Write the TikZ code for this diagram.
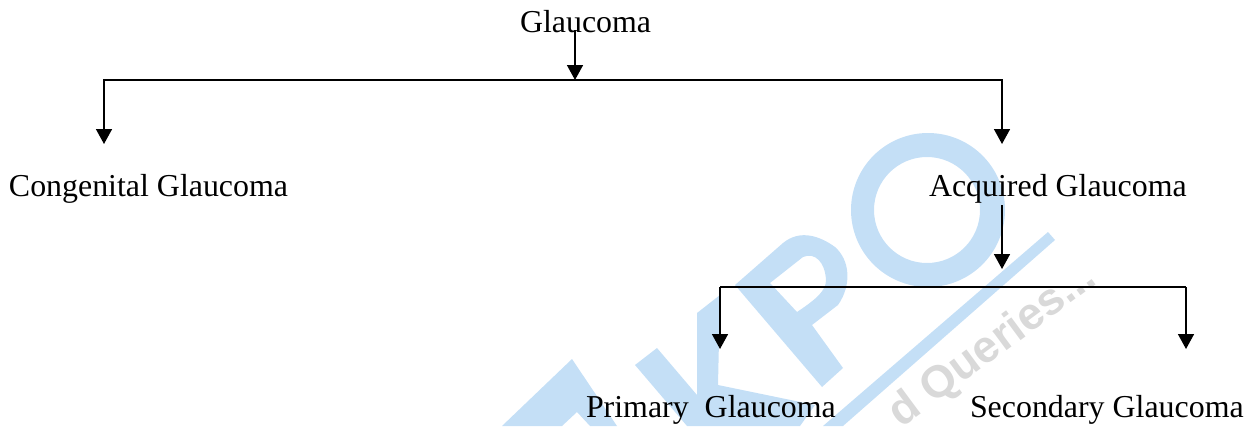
\documentclass[tikz,border=0pt]{standalone}
\usepackage{fontspec}
\setmainfont{Liberation Serif}
\newfontfamily\wmfont{Liberation Sans}
\usetikzlibrary{arrows.meta}
\definecolor{wmblue}{HTML}{C4DFF6}
\definecolor{wmgray}{HTML}{D9D9D9}
\tikzset{
  label text/.style={anchor=base west,inner sep=0pt,outer sep=0pt,font=\fontsize{31.9}{36}\selectfont,text=black},
  bus/.style={line width=2pt,draw=black},
  feed/.style={line width=1.6pt,draw=black,-{Triangle[width=16pt,length=15pt]}},
  wm/.style={fill=wmblue,draw=none}
}
\begin{document}
\begin{tikzpicture}[x=1pt,y=-1pt]
\useasboundingbox (0,0) rectangle (1256,426);
\clip (0,0) rectangle (1256,426);
% watermark
\fill[wm,even odd rule] (928,210) circle (77) (927,210) circle (53);
\fill[wm] (1048,232) -- (1055,240) -- (843,426) -- (823,426) -- cycle;
\fill[wm,even odd rule] (735,285) -- (783,243) .. controls (800,229) and (820,236) .. (835,247)
  .. controls (850,260) and (852,285) .. (838,305) -- (812,325) -- (843,368) -- (822,387) -- cycle
  (770,283) -- (803,257) .. controls (815,252) and (825,262) .. (826,280) .. controls (826,290) and (818,298) .. (797,312) -- cycle;
\fill[wm] (572,359) -- (617,426) -- (590,426) -- (577,412) -- (562,426) -- (502,426) -- cycle;
\fill[wm] (635,365) -- (657,348) -- (697,395) -- (697,313) -- (720,295) -- (718,385) -- (815,405) -- (800,426) -- (687,426) -- cycle;
\node[rotate=36.5,text=wmgray,inner sep=0pt,font=\wmfont\bfseries\fontsize{45}{50}\selectfont] (wmtext) at (993,346) {d Queries...};
% labels
\node[label text] (glau) at (520,32.5) {Glaucoma};
\node[label text] (cong) at (9,196) {Congenital Glaucoma};
\node[label text] (acq) at (929,196) {Acquired Glaucoma};
\node[label text] (prim) at (586,417) {Primary\ \ Glaucoma};
\node[label text] (sec) at (970,417) {Secondary Glaucoma};
% junctions
\coordinate (gstart) at (575,30);
\coordinate (busM) at (575,80);
\coordinate (busL) at (104,80);
\coordinate (busR) at (1002,80);
\coordinate (tipL) at (104,144);
\coordinate (tipR) at (1002,144);
\coordinate (astart) at (1002,205);
\coordinate (subM) at (1002,269);
\coordinate (subL) at (720,287);
\coordinate (subR) at (1186,287);
\coordinate (tipP) at (720,349);
\coordinate (tipS) at (1186,349);
% connectors
\draw[bus,line cap=rect] (busL) -- (busR);
\draw[bus] (subL) -- (subR);
\draw[feed] (gstart) -- (busM);
\draw[feed] (busL) -- (tipL);
\draw[feed] (busR) -- (tipR);
\draw[feed] (astart) -- (subM);
\draw[feed] (subL) -- (tipP);
\draw[feed] (subR) -- (tipS);
\end{tikzpicture}
\end{document}
